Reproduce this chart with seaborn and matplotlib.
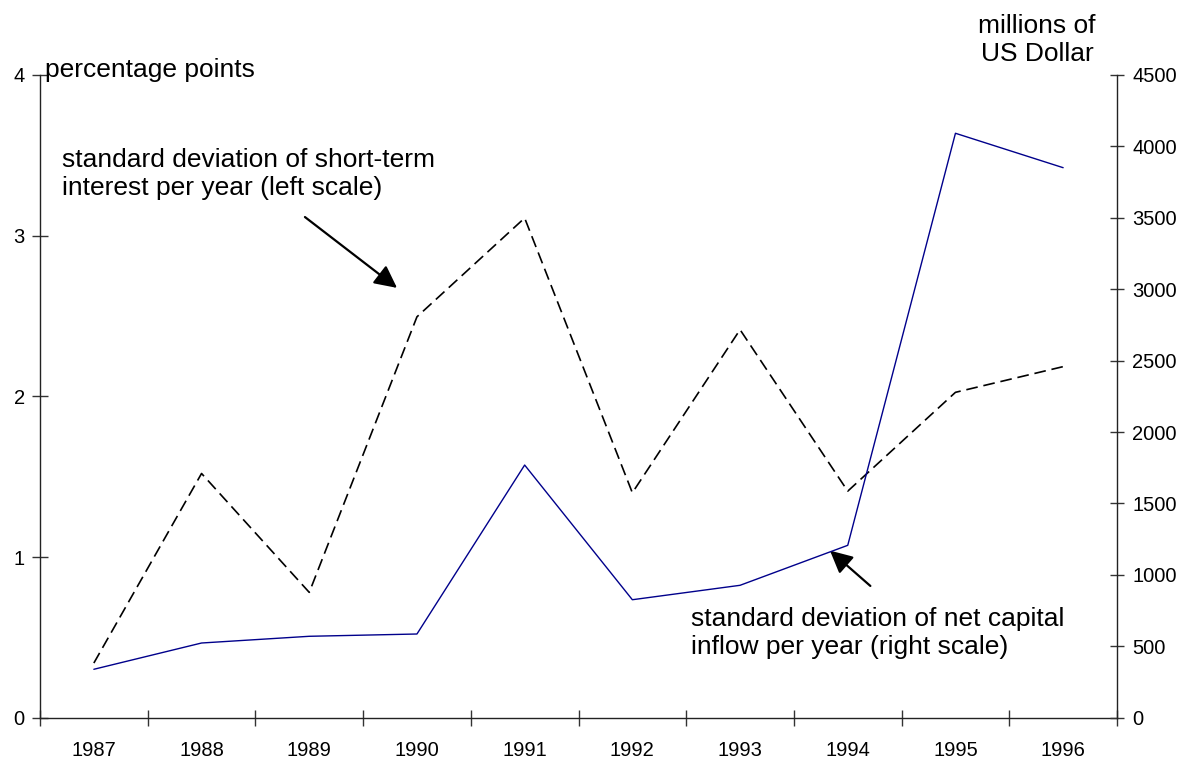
import matplotlib
matplotlib.use('Agg')
import matplotlib.pyplot as plt
import seaborn as sns
import pandas as pd
import numpy as np

# data
years = ['1987', '1988', '1989', '1990', '1991', '1992', '1993', '1994', '1995', '1996']
interest_sd = [0.34, 1.52, 0.78, 2.495, 3.11, 1.40, 2.415, 1.41, 2.025, 2.185]   # percentage points, left scale
capital_sd = [339, 523, 570, 586, 1769, 826, 927, 1207, 4092, 3851]             # millions of US$, right scale
left_ticks = [0, 1, 2, 3, 4]
right_ticks = [0, 500, 1000, 1500, 2000, 2500, 3000, 3500, 4000, 4500]

sns.set_style('ticks')
plt.rcParams['font.family'] = ['Liberation Sans', 'DejaVu Sans']
plt.rcParams['text.color'] = 'black'
plt.rcParams['xtick.color'] = 'black'
plt.rcParams['ytick.color'] = 'black'

df = pd.DataFrame({'pos': np.arange(len(years)), 'interest': interest_sd, 'capital': capital_sd})

fig = plt.figure(figsize=(11.8, 7.6), dpi=100)
ax = fig.add_axes([40 / 1180, 1 - 717.7 / 760, 1077 / 1180, 642.7 / 760])
ax2 = ax.twinx()

sns.lineplot(data=df, x='pos', y='interest', ax=ax, color='black', lw=1.2)
ax.lines[0].set_dashes([7, 3.5])
sns.lineplot(data=df, x='pos', y='capital', ax=ax2, color='#00008B', lw=1.0)

ax.set_xlim(-0.5, len(years) - 0.5)
ax.set_ylim(0, 4)
ax2.set_ylim(0, 4500)
ax.set_yticks(left_ticks)
ax2.set_yticks(right_ticks)

# category axis: ticks at the boundaries, labels in the middle
ax.set_xticks(np.arange(len(years) + 1) - 0.5)
ax.set_xticklabels([])
ax.set_xticks(np.arange(len(years)), minor=True)
ax.set_xticklabels(years, minor=True)
ax.tick_params(axis='x', which='major', direction='inout', length=12, width=1, color='#333333')
ax.tick_params(axis='x', which='minor', length=0, pad=17, labelsize=14.5)
ax.tick_params(axis='y', direction='inout', length=12, width=1, pad=5, labelsize=14.5, color='#333333')
ax2.tick_params(axis='y', direction='inout', length=10, width=1, pad=6, labelsize=14.5, color='#333333')

ax.set_xlabel('')
ax.set_ylabel('')
ax2.set_ylabel('')
for a in (ax, ax2):
    a.spines['top'].set_visible(False)
    for s in ('left', 'right', 'bottom'):
        a.spines[s].set_color('#222222')
        a.spines[s].set_linewidth(1.0)
ax2.spines['left'].set_visible(False)
ax2.spines['bottom'].set_visible(False)
ax.spines['right'].set_visible(False)
ax2.spines['right'].set_visible(True)

fig.text(45 / 1180, 1 - 70 / 760, 'percentage points', fontsize=19, ha='left', va='center')
fig.text(1037 / 1180, 1 - 40 / 760, 'millions of\nUS Dollar', fontsize=19, ha='center', va='center',
         multialignment='center', linespacing=1.2)

ax.annotate('standard deviation of short-term\ninterest per year (left scale)',
            xy=(2.815, 2.675), xytext=(-0.296, 3.383), fontsize=19, ha='left', va='center',
            linespacing=1.2)
ax.annotate('', xy=(2.815, 2.675), xytext=(1.96, 3.116),
            arrowprops=dict(arrowstyle='-|>', color='black', lw=1.6, mutation_scale=34, shrinkA=0, shrinkB=0))

ax.annotate('standard deviation of net capital\ninflow per year (right scale)',
            xy=(5.54, 0.526), xytext=(5.54, 0.526), fontsize=19, ha='left', va='center',
            linespacing=1.2)
ax.annotate('', xy=(6.835, 1.04), xytext=(7.21, 0.82),
            arrowprops=dict(arrowstyle='-|>', color='black', lw=1.6, mutation_scale=34, shrinkA=0, shrinkB=0))

plt.savefig('out.png', dpi=100)
